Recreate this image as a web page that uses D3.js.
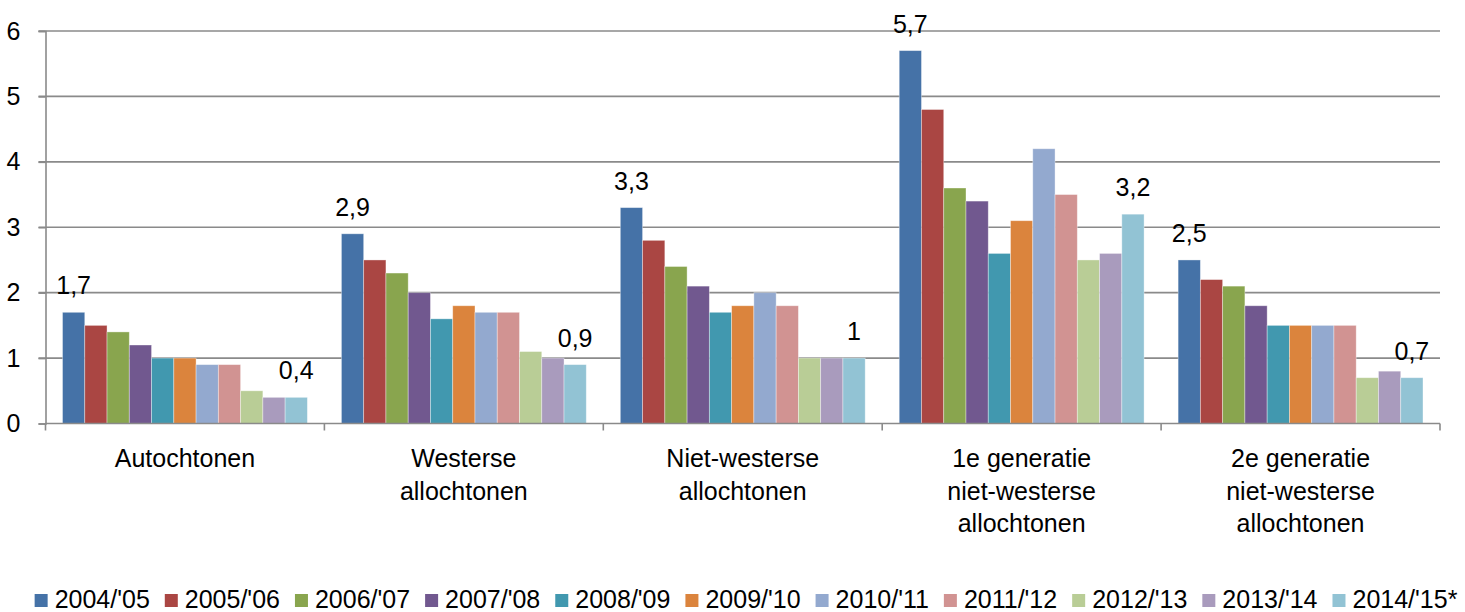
<!DOCTYPE html>
<html>
<head>
<meta charset="utf-8">
<script src="https://cdn.jsdelivr.net/npm/d3@7"></script>
<style>
  html, body { margin: 0; padding: 0; background: #fff; }
  svg text { font-family: "Liberation Sans", Arial, sans-serif; font-size: 25px; fill: #000; }
</style>
</head>
<body>
<svg id="chart" width="1465" height="612"></svg>
<script>
// Groups on the x axis (each label may wrap over several lines)
const categories = [
  ["Autochtonen"],
  ["Westerse", "allochtonen"],
  ["Niet-westerse", "allochtonen"],
  ["1e generatie", "niet-westerse", "allochtonen"],
  ["2e generatie", "niet-westerse", "allochtonen"]
];

// School years (series)
const seriesNames = ["2004/'05", "2005/'06", "2006/'07", "2007/'08", "2008/'09",
  "2009/'10", "2010/'11", "2011/'12", "2012/'13", "2013/'14", "2014/'15*"];

const seriesColors = ["#4572A7", "#AA4643", "#89A54E", "#71588F", "#4198AF",
  "#DB843D", "#93A9CF", "#D19392", "#B9CD96", "#A99BBD", "#92C3D4"];

// Values per group, one entry per school year
const autochtonen      = [1.7, 1.5, 1.4, 1.2, 1.0, 1.0, 0.9, 0.9, 0.5, 0.4, 0.4];
const westers          = [2.9, 2.5, 2.3, 2.0, 1.6, 1.8, 1.7, 1.7, 1.1, 1.0, 0.9];
const nietWesters      = [3.3, 2.8, 2.4, 2.1, 1.7, 1.8, 2.0, 1.8, 1.0, 1.0, 1.0];
const eersteGeneratie  = [5.7, 4.8, 3.6, 3.4, 2.6, 3.1, 4.2, 3.5, 2.5, 2.6, 3.2];
const tweedeGeneratie  = [2.5, 2.2, 2.1, 1.8, 1.5, 1.5, 1.5, 1.5, 0.7, 0.8, 0.7];

const yTicks = [0, 1, 2, 3, 4, 5, 6];

const groupValues = [autochtonen, westers, nietWesters, eersteGeneratie, tweedeGeneratie];

// Value labels: first and last series of every group, written with a decimal comma
const fmt = v => String(v).replace(".", ",");

const svg = d3.select("#chart");
const plotLeft = 45.5, plotRight = 1440, plotTop = 31, plotBottom = 423.5;
const axisColor = "#8a8a8a";

const x0 = d3.scaleBand()
  .domain(d3.range(categories.length))
  .range([plotLeft, plotRight])
  .paddingInner(0.122)
  .paddingOuter(0.061);

const x1 = d3.scaleBand()
  .domain(d3.range(seriesNames.length))
  .range([0, x0.bandwidth()]);

const y = d3.scaleLinear().domain([0, 6]).range([plotBottom, plotTop]);

// Horizontal gridlines (extend a little left of the axis as tick marks)
svg.append("g")
  .selectAll("line")
  .data(yTicks.filter(d => d > 0))
  .join("line")
  .attr("x1", plotLeft - 7).attr("x2", plotRight)
  .attr("y1", d => y(d)).attr("y2", d => y(d))
  .attr("stroke", axisColor)
  .attr("stroke-width", 1.6);

// Y axis with labels
const yAxis = svg.append("g")
  .attr("transform", `translate(${plotLeft},0)`)
  .call(d3.axisLeft(y).tickValues(yTicks).tickSize(7).tickPadding(18).tickFormat(d => d));
yAxis.select(".domain").attr("stroke", axisColor).attr("stroke-width", 1.6);
yAxis.selectAll(".tick line").attr("stroke", axisColor).attr("stroke-width", 1.6);
yAxis.attr("font-size", null).attr("font-family", null);

// Bars
const groups = svg.append("g")
  .selectAll("g")
  .data(groupValues)
  .join("g")
  .attr("transform", (d, i) => `translate(${x0(i)},0)`);

groups.selectAll("rect")
  .data(d => d)
  .join("rect")
  .attr("x", (d, i) => x1(i))
  .attr("y", d => y(d))
  .attr("width", x1.bandwidth())
  .attr("height", d => y(0) - y(d))
  .attr("fill", (d, i) => seriesColors[i])
  .attr("stroke", "#ffffff")
  .attr("stroke-opacity", 0.45)
  .attr("stroke-width", 0.8);

// Data labels on first and last bar of each group
groups.selectAll("text.val")
  .data(d => d.map((v, i) => ({ v, i })).filter(o => o.i === 0 || o.i === d.length - 1))
  .join("text")
  .attr("class", "val")
  .attr("x", o => x1(o.i) + x1.bandwidth() / 2)
  .attr("y", o => y(o.v) - 18)
  .attr("text-anchor", "middle")
  .text(o => fmt(o.v));

// X axis: baseline and boundary ticks
const xAxisG = svg.append("g");
xAxisG.append("line")
  .attr("x1", plotLeft).attr("x2", plotRight)
  .attr("y1", y(0)).attr("y2", y(0))
  .attr("stroke", axisColor).attr("stroke-width", 1.6);

const boundaries = d3.range(categories.length + 1).map(i =>
  i < categories.length ? x0(i) - x0.step() * x0.paddingInner() / 2 : plotRight);
boundaries[0] = plotLeft;
xAxisG.selectAll("line.tick")
  .data(boundaries)
  .join("line")
  .attr("class", "tick")
  .attr("x1", d => d).attr("x2", d => d)
  .attr("y1", y(0)).attr("y2", y(0) + 7)
  .attr("stroke", axisColor).attr("stroke-width", 1.6);

// Category labels
const catText = xAxisG.selectAll("text.cat")
  .data(categories)
  .join("text")
  .attr("class", "cat")
  .attr("text-anchor", "middle")
  .attr("x", (d, i) => x0(i) + x0.bandwidth() / 2)
  .attr("y", 467);
catText.selectAll("tspan")
  .data(d => d)
  .join("tspan")
  .attr("x", function () { return d3.select(this.parentNode).attr("x"); })
  .attr("dy", (d, i) => i === 0 ? 0 : 32.5)
  .text(d => d);

// Legend
const legendGap = 15;
const legend = svg.append("g");
const items = legend.selectAll("g")
  .data(seriesNames)
  .join("g");
items.append("rect")
  .attr("width", 13).attr("height", 13)
  .attr("y", 594)
  .attr("fill", (d, i) => seriesColors[i]);
items.append("text")
  .attr("x", 20)
  .attr("y", 607.5)
  .text(d => d);

let cursor = 0;
const offsets = [];
items.each(function () {
  offsets.push(cursor);
  const w = d3.select(this).select("text").node().getComputedTextLength();
  cursor += 20 + w + legendGap;
});
const totalW = cursor - legendGap;
const startX = 746 - totalW / 2;
items.attr("transform", (d, i) => `translate(${startX + offsets[i]},0)`);
</script>
</body>
</html>
